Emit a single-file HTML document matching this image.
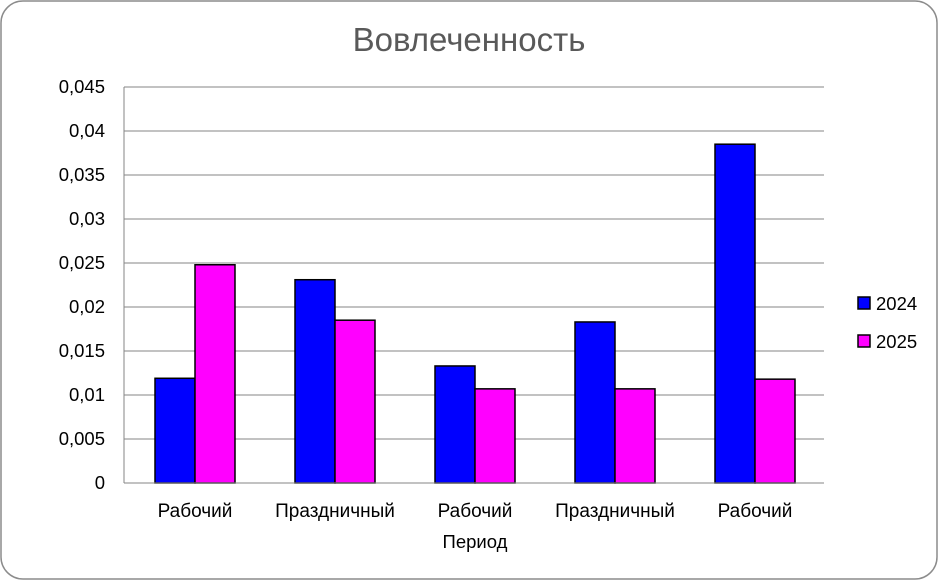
<!DOCTYPE html>
<html><head><meta charset="utf-8"><style>
html,body{margin:0;padding:0;background:#fff;}
svg{display:block;font-family:"Liberation Sans","DejaVu Sans",sans-serif;}
</style></head><body>
<svg id="chart" width="938" height="580">
<rect x="1" y="1" width="936" height="578" rx="22" ry="22" fill="#fff" stroke="#8c8c8c" stroke-width="1.5"/>
<text x="469" y="51" text-anchor="middle" font-size="33" fill="#595959">Вовлеченность</text>
<g id="grid"></g><g id="bars"></g><g id="axes"></g>
<text x="475" y="548" text-anchor="middle" font-size="18.5" fill="#000">Период</text>
<rect x="858" y="297" width="12" height="12" fill="#0000ff" stroke="#000" stroke-width="1.5"/>
<text x="876" y="310" font-size="18.5">2024</text>
<rect x="858" y="335" width="12" height="12" fill="#ff00ff" stroke="#000" stroke-width="1.5"/>
<text x="876" y="348" font-size="18.5">2025</text>
</svg>
<script>
const categories = ["Рабочий","Праздничный","Рабочий","Праздничный","Рабочий"];
const series2024 = [0.0119,0.0231,0.0133,0.0183,0.0385];
const series2025 = [0.0248,0.0185,0.0107,0.0107,0.0118];
const yTicks = [0,0.005,0.01,0.015,0.02,0.025,0.03,0.035,0.04,0.045];
const yTickLabels = ["0","0,005","0,01","0,015","0,02","0,025","0,03","0,035","0,04","0,045"];
const NS="http://www.w3.org/2000/svg";
const X0=124,X1=824,Y0=483,Y1=87,YMAX=0.045;
const y=v=>Y0-(v/YMAX)*(Y0-Y1);
const band=(X1-X0)/categories.length;
const xc=i=>X0+band*(i+0.5)+1;
function mk(t,a,p){const e=document.createElementNS(NS,t);for(const k in a)e.setAttribute(k,a[k]);p.appendChild(e);return e;}
const grid=document.getElementById('grid'),bars=document.getElementById('bars'),axes=document.getElementById('axes');
yTicks.forEach((v,i)=>{
  if(v>0){const l=mk('line',{x1:X0,x2:X1,y1:y(v),y2:y(v),stroke:'#868686','stroke-width':1},grid);
  
  }
  const t=mk('text',{x:105,y:y(v)+6,'text-anchor':'end','font-size':18.5},axes);t.textContent=yTickLabels[i];
  
  
});
const bw=40;
categories.forEach((c,i)=>{
  const b1=mk('rect',{x:xc(i)-bw,y:y(series2024[i]),width:bw,height:Y0-y(series2024[i]),fill:'#0000ff',stroke:'#000','stroke-width':1.5},bars);
  
  
  const b2=mk('rect',{x:xc(i),y:y(series2025[i]),width:bw,height:Y0-y(series2025[i]),fill:'#ff00ff',stroke:'#000','stroke-width':1.5},bars);
  
  
  const t=mk('text',{x:xc(i),y:517,'text-anchor':'middle','font-size':19},axes);t.textContent=c;
  
  
});
const ya=mk('line',{x1:X0,x2:X0,y1:Y1,y2:Y0,stroke:'#868686','stroke-width':1},axes);


const xa=mk('line',{x1:X0,x2:X1,y1:Y0,y2:Y0,stroke:'#868686','stroke-width':1},axes);


</script>
</body></html>
